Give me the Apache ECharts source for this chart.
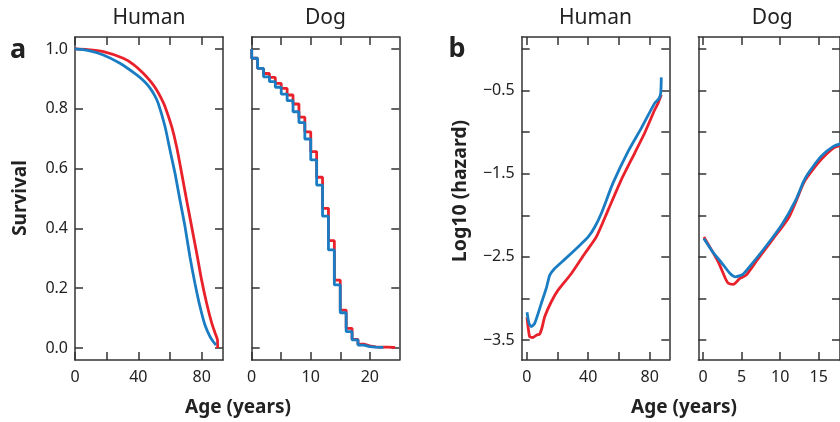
<!DOCTYPE html>
<html>
<head>
<meta charset="utf-8">
<script src="https://cdn.jsdelivr.net/npm/echarts@6/dist/echarts.min.js"></script>
<style>
html, body { margin: 0; background: #fff; }
#main { width: 840px; height: 422px; }
</style>
</head>
<body>
<div id="main"></div>
<script>
// survival, human: [age, fraction alive]
var humanSurvRed = [[0,1],[8,0.998],[17.9,0.991],[30.5,0.969],[37,0.948],[43.1,0.919],[48,0.89],[51.6,0.863],[54.5,0.835],[56.9,0.807],[61.1,0.74],[64.2,0.673],[67.4,0.584],[70.5,0.495],[73.7,0.406],[76.9,0.317],[80,0.227],[83.2,0.149],[86.4,0.083],[88.5,0.05],[90,0.027],[90.1,0]];
var humanSurvBlue = [[0,1],[8,0.995],[17.9,0.98],[28.4,0.952],[39,0.913],[44,0.89],[47.4,0.869],[50.3,0.845],[52.6,0.818],[56.9,0.74],[60,0.662],[63.2,0.584],[66.3,0.495],[69.5,0.406],[72.6,0.305],[75.8,0.216],[79,0.138],[82.1,0.077],[85.3,0.038],[87.5,0.02],[89.1,0.01]];

// survival, dog: level held over each year of age
var dogYears = [0,1,2,3,4,5,6,7,8,9,10,11,12,13,14,15,16,17,18,19,20,21,22,23,24];
var dogSurvRed = [0.969,0.935,0.918,0.905,0.885,0.868,0.846,0.816,0.772,0.723,0.657,0.571,0.467,0.359,0.227,0.127,0.066,0.029,0.013,0.007,0.004,0.003,0.003,0.002,0.002];
var dogSurvBlue = [0.969,0.935,0.907,0.891,0.872,0.849,0.827,0.790,0.754,0.699,0.629,0.545,0.441,0.328,0.211,0.118,0.055,0.027,0.010,0.005,0.003,0.002,0.002];
var dogRedEnd = 24.3, dogBlueEnd = 22.3;

// log10 hazard, human
var humanHazRed = [[0.2,-3.227],[1.9,-3.46],[4.1,-3.47],[6.5,-3.44],[8.4,-3.43],[10,-3.35],[11.7,-3.22],[16,-3.04],[20.4,-2.9],[29.1,-2.7],[37.8,-2.46],[45.3,-2.26],[52.9,-1.94],[61.6,-1.57],[70.3,-1.25],[77,-1.0],[83.3,-0.73],[85.5,-0.65],[87.6,-0.55]];
var humanHazBlue = [[0.2,-3.167],[1.5,-3.3],[3,-3.34],[5.2,-3.3],[9.5,-3.06],[13,-2.86],[15,-2.72],[18.2,-2.64],[24.7,-2.53],[33.4,-2.38],[40,-2.26],[44.3,-2.14],[48.6,-1.975],[56.2,-1.61],[66,-1.23],[74.6,-0.95],[83.3,-0.65],[85.9,-0.6],[87.2,-0.53],[87.6,-0.34]];

// log10 hazard, dog
var dogHazRed = [[0.1,-2.26],[1.24,-2.44],[2.07,-2.58],[2.9,-2.76],[3.3,-2.82],[3.93,-2.83],[4.76,-2.76],[5.58,-2.72],[7,-2.54],[9.1,-2.28],[11.15,-2.02],[13,-1.62],[13.6,-1.53],[15.3,-1.33],[16.9,-1.19],[17.8,-1.16]];
var dogHazBlue = [[0.1,-2.28],[1.24,-2.44],[2.48,-2.58],[3.5,-2.7],[4.2,-2.74],[5.17,-2.71],[6.2,-2.6],[8.26,-2.36],[10.3,-2.1],[12,-1.82],[13,-1.6],[13.6,-1.5],[15.3,-1.29],[16.9,-1.17],[17.8,-1.14]];

// tick positions and labels
var survTicks = [0, 0.2, 0.4, 0.6, 0.8, 1.0];
var hazTicks = [-3.5, -3, -2.5, -2, -1.5, -1, -0.5, 0];
var hazLabels = [-3.5, -2.5, -1.5, -0.5];
var humanTicks = [0, 20, 40, 60, 80];
var humanLabels = [0, 40, 80];
var dogTicksA = [0, 5, 10, 15, 20];
var dogLabelsA = [0, 10, 20];
var dogTicksB = [0, 5, 10, 15];

var red = '#e8212b', blue = '#1a7cc2', ink = '#333';
var font = '"Noto Sans", "Open Sans", sans-serif';

function steps(levels, end) {
    var pts = [[0, 1]];
    for (var i = 0; i < levels.length; i++) pts.push([dogYears[i], levels[i]]);
    pts.push([end, levels[levels.length - 1]]);
    return pts;
}

function xAx(g, min, max, ticks, labels, top) {
    return {
        type: 'value', gridIndex: g, min: min, max: max, position: top ? 'top' : 'bottom',
        axisLine: { show: true, onZero: false, lineStyle: { color: ink, width: 1.5 } },
        axisTick: { show: true, inside: true, length: 8, customValues: ticks, lineStyle: { color: ink, width: 1.5 } },
        axisLabel: { show: !top && !!labels, customValues: labels || [], margin: 9, fontSize: 16, color: '#222', fontFamily: font },
        splitLine: { show: false }
    };
}
function yAx(g, min, max, ticks, labels, right, fmt) {
    return {
        type: 'value', gridIndex: g, min: min, max: max, position: right ? 'right' : 'left',
        axisLine: { show: true, onZero: false, lineStyle: { color: ink, width: 1.5 } },
        axisTick: { show: true, inside: true, length: 8, customValues: ticks, lineStyle: { color: ink, width: 1.5 } },
        axisLabel: { show: !right && !!labels, customValues: labels || [], margin: 7, fontSize: 16, color: '#222', fontFamily: font, formatter: fmt },
        splitLine: { show: false }
    };
}
function line(g, data, color, step) {
    return {
        type: 'line', xAxisIndex: 2 * g, yAxisIndex: 2 * g, data: data, step: step || false,
        showSymbol: false, smooth: step ? false : 0.2, silent: true,
        lineStyle: { color: color, width: 2.8 }
    };
}
function txt(x, y, s, size, bold, rot) {
    return {
        type: 'text', x: x, y: y, rotation: rot || 0,
        style: { text: s, fontSize: size, fontWeight: bold ? 'bold' : 'normal', fontFamily: font, fill: '#222', align: 'center', verticalAlign: 'middle' }
    };
}

var survFmt = function (v) { return v.toFixed(1); };
var hazFmt = function (v) { return v.toFixed(1).replace('-', '\u2212'); };

var myChart = echarts.init(document.getElementById('main'));

var option = {
    animation: false,
    grid: [
        { left: 75, top: 37, width: 148, height: 323 },
        { left: 251.7, top: 37, width: 147.6, height: 323 },
        { left: 521.7, top: 37, width: 147.6, height: 323 },
        { left: 698.3, top: 37, width: 148, height: 323 }
    ],
    xAxis: [
        xAx(0, 0, 93.5, humanTicks, humanLabels), xAx(0, 0, 93.5, humanTicks, null, true),
        xAx(1, 0, 25, dogTicksA, dogLabelsA), xAx(1, 0, 25, dogTicksA, null, true),
        xAx(2, -3.26, 92.8, humanTicks, humanLabels), xAx(2, -3.26, 92.8, humanTicks, null, true),
        xAx(3, -0.62, 17.76, dogTicksB, dogTicksB), xAx(3, -0.62, 17.76, dogTicksB, null, true)
    ],
    yAxis: [
        yAx(0, -0.04, 1.04, survTicks, survTicks, false, survFmt), yAx(0, -0.04, 1.04, survTicks, null, true),
        yAx(1, -0.04, 1.04, survTicks, null), yAx(1, -0.04, 1.04, survTicks, null, true),
        yAx(2, -3.741, 0.146, hazTicks, hazLabels, false, hazFmt), yAx(2, -3.741, 0.146, hazTicks, null, true),
        yAx(3, -3.741, 0.146, hazTicks, null), yAx(3, -3.741, 0.146, hazTicks, null, true)
    ],
    series: [
        line(0, humanSurvRed, red), line(0, humanSurvBlue, blue),
        line(1, steps(dogSurvRed, dogRedEnd), red, 'end'), line(1, steps(dogSurvBlue, dogBlueEnd), blue, 'end'),
        line(2, humanHazRed, red), line(2, humanHazBlue, blue),
        line(3, dogHazRed, red), line(3, dogHazBlue, blue)
    ],
    graphic: [
        txt(149, 18, 'Human', 21), txt(325.5, 18, 'Dog', 21),
        txt(595.5, 18, 'Human', 21), txt(772.3, 18, 'Dog', 21),
        txt(18, 50, 'a', 27, true), txt(457, 49, 'b', 27, true),
        txt(21, 198, 'Survival', 19, true, Math.PI / 2),
        txt(460, 191, 'Log10 (hazard)', 19.5, true, Math.PI / 2),
        txt(238, 408, 'Age (years)', 19, true), txt(684, 408, 'Age (years)', 19, true)
    ]
};

myChart.setOption(option);
</script>
</body>
</html>
